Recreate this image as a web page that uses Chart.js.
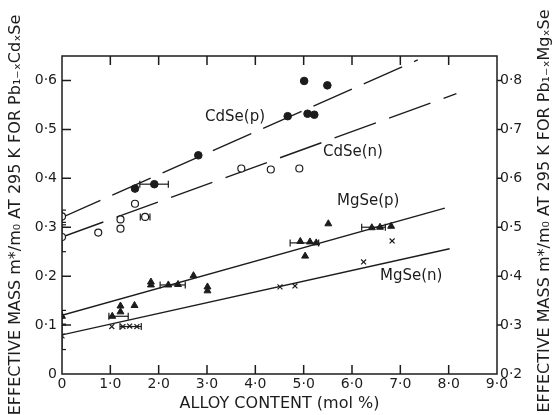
<!DOCTYPE html>
<html lang="en">
<head>
<meta charset="UTF-8">
<script src="https://cdn.jsdelivr.net/npm/chart.js"></script>
<style>
  body { margin: 0; background: #fff; }
  .box { width: 556px; height: 415px; position: relative; }
</style>
<title>Effective mass vs alloy content</title>
</head>
<body>
<div class="box"><canvas id="grafico"></canvas></div>
<script>
// CdSe(p) filled circles
const cdsePX = [1.51, 1.91, 2.82, 4.67, 5.01, 5.08, 5.22, 5.49];
const cdsePY = [0.379, 0.388, 0.447, 0.527, 0.599, 0.532, 0.530, 0.590];
// CdSe(n) open circles (x = 0 ones are PbSe)
const cdseNX = [0, 0, 0.75, 1.21, 1.21, 1.51, 1.72, 3.71, 4.32, 4.91];
const cdseNY = [0.322, 0.280, 0.289, 0.316, 0.297, 0.348, 0.321, 0.420, 0.418, 0.420];
// MgSe(p) triangles
const mgsePX = [0, 1.04, 1.21, 1.21, 1.50, 1.84, 1.84, 2.20, 2.40, 2.72, 3.01, 3.01, 4.93, 5.03, 5.13, 5.26, 5.51, 6.41, 6.58, 6.81];
const mgsePY = [0.118, 0.118, 0.139, 0.127, 0.140, 0.188, 0.182, 0.182, 0.183, 0.201, 0.178, 0.170, 0.271, 0.241, 0.270, 0.268, 0.307, 0.299, 0.300, 0.302];
// MgSe(n) crosses
const mgseNX = [0, 1.03, 1.26, 1.40, 1.55, 4.51, 4.82, 6.24, 6.83];
const mgseNY = [0.078, 0.097, 0.097, 0.098, 0.097, 0.178, 0.180, 0.229, 0.272];

// fitted lines: start and end
const lineNames = ['CdSe(p)', 'CdSe(n)', 'MgSe(p)', 'MgSe(n)'];
const lineX0 = [0, 0, 0, 0];
const lineY0 = [0.320, 0.280, 0.120, 0.080];
const lineX1 = [7.36, 8.16, 7.92, 8.02];
const lineY1 = [0.642, 0.573, 0.339, 0.256];

// horizontal error bars
const errHY = [0.388, 0.321, 0.118, 0.182, 0.268, 0.300, 0.097];
const errHLo = [1.61, 1.62, 0.97, 2.03, 4.72, 6.20, 1.20];
const errHHi = [2.20, 1.82, 1.37, 2.55, 5.31, 6.69, 1.64];
// vertical error bars on the x = 0 points
const errVX = [0, 0, 0, 0];
const errVLo = [0.310, 0.250, 0.100, 0.050];
const errVHi = [0.335, 0.305, 0.130, 0.102];

const xTicks = [0, 1, 2, 3, 4, 5, 6, 7, 8, 9];
const leftTicks = [0, 0.1, 0.2, 0.3, 0.4, 0.5, 0.6];
const rightTicks = [0.2, 0.3, 0.4, 0.5, 0.6, 0.7, 0.8];

const ink = '#1c1c1c';
const fonte = 'DejaVu Sans';

function pts(xs, ys) {
    return xs.map((x, i) => ({ x: x, y: ys[i] }));
}

function rotulo(v) {
    return v === 0 ? '0' : v.toFixed(1).replace('.', '·');
}

const datasets = [];

// lines
const dashes = [[42, 13], [44, 14], [], []];
lineNames.forEach((n, i) => {
    datasets.push({
        type: 'line',
        data: [{ x: lineX0[i], y: lineY0[i] }, { x: lineX1[i], y: lineY1[i] }],
        borderColor: ink,
        borderWidth: 1.4,
        borderDash: dashes[i],
        pointRadius: 0,
        fill: false,
        order: 3
    });
});

// error bars
errHY.forEach((y, i) => {
    datasets.push({
        type: 'line',
        data: [{ x: errHLo[i], y: y }, { x: errHHi[i], y: y }],
        borderColor: ink,
        borderWidth: 1.2,
        pointStyle: 'line',
        rotation: 90,
        pointRadius: 3.5,
        pointBorderWidth: 1.2,
        pointBorderColor: ink,
        order: 2
    });
});
errVX.forEach((x, i) => {
    datasets.push({
        type: 'line',
        data: [{ x: x, y: errVLo[i] }, { x: x, y: errVHi[i] }],
        borderColor: ink,
        borderWidth: 1.2,
        pointStyle: 'line',
        rotation: 0,
        pointRadius: 4,
        pointBorderWidth: 1.2,
        pointBorderColor: ink,
        order: 2
    });
});

// markers
datasets.push({
    type: 'scatter', data: pts(cdsePX, cdsePY),
    pointStyle: 'circle', pointRadius: 3.8,
    backgroundColor: ink, borderColor: ink, borderWidth: 1, order: 1
});
datasets.push({
    type: 'scatter', data: pts(cdseNX, cdseNY),
    pointStyle: 'circle', pointRadius: 3.5,
    backgroundColor: '#fff', borderColor: ink, borderWidth: 1.2, order: 1
});
datasets.push({
    type: 'scatter', data: pts(mgsePX, mgsePY),
    pointStyle: 'triangle', pointRadius: 4,
    backgroundColor: ink, borderColor: ink, borderWidth: 1, order: 1
});
datasets.push({
    type: 'scatter', data: pts(mgseNX, mgseNY),
    pointStyle: 'crossRot', pointRadius: 3.5,
    backgroundColor: ink, borderColor: ink, borderWidth: 1.2, order: 1
});

// frame, inward ticks, line names, right-hand title
const moldura = {
    id: 'moldura',
    afterDatasetsDraw(chart) {
        const { ctx, chartArea: a, scales } = chart;
        ctx.save();
        ctx.strokeStyle = ink;
        ctx.lineWidth = 1.5;
        ctx.strokeRect(a.left, a.top, a.right - a.left, a.bottom - a.top);

        ctx.beginPath();
        xTicks.forEach(v => {
            if (v === 0 || v === 9) return;
            const px = scales.x.getPixelForValue(v);
            ctx.moveTo(px, a.bottom); ctx.lineTo(px, a.bottom - 9);
            ctx.moveTo(px, a.top); ctx.lineTo(px, a.top + 9);
        });
        leftTicks.forEach(v => {
            if (v === 0) return;
            const py = scales.y.getPixelForValue(v);
            ctx.moveTo(a.left, py); ctx.lineTo(a.left + 9, py);
        });
        rightTicks.forEach(v => {
            if (v === 0.2) return;
            const py = scales.y1.getPixelForValue(v);
            ctx.moveTo(a.right, py); ctx.lineTo(a.right + 5, py);
        });
        ctx.stroke();

        // names next to the lines
        const lx = [2.96, 5.40, 5.69, 6.58];
        const ly = [0.526, 0.454, 0.353, 0.200];
        ctx.fillStyle = ink;
        ctx.font = '15px "' + fonte + '"';
        ctx.textAlign = 'left';
        ctx.textBaseline = 'middle';
        lineNames.forEach((n, i) => {
            ctx.fillText(n, scales.x.getPixelForValue(lx[i]), scales.y.getPixelForValue(ly[i]));
        });

        // right title, reads bottom to top
        ctx.font = '16px "' + fonte + '"';
        ctx.textAlign = 'center';
        ctx.translate(545, 211);
        ctx.rotate(-Math.PI / 2);
        ctx.fillText('EFFECTIVE MASS m*/m₀ AT 295 K FOR Pb₁₋ₓMgₓSe', 0, 0);
        ctx.restore();
    }
};

const ctx = document.getElementById('grafico');
const config = {
    data: { datasets: datasets },
    options: {
        responsive: true,
        maintainAspectRatio: false,
        animation: false,
        layout: { padding: { top: 56, left: 0, right: 0, bottom: 0 } },
        plugins: {
            legend: { display: false },
            tooltip: { enabled: false }
        },
        scales: {
            x: {
                type: 'linear', min: 0, max: 9,
                afterBuildTicks: s => { s.ticks = xTicks.map(v => ({ value: v })); },
                afterFit: s => { s.height = 41; },
                grid: { display: false, drawTicks: false },
                border: { display: false },
                ticks: {
                    color: ink, padding: 2,
                    font: { family: fonte, size: 14 },
                    callback: v => rotulo(v)
                },
                title: {
                    display: true, text: 'ALLOY CONTENT (mol %)', color: ink,
                    font: { family: fonte, size: 16 }, padding: { top: 0, bottom: 2 }
                }
            },
            y: {
                type: 'linear', position: 'left', min: 0, max: 0.65,
                afterBuildTicks: s => { s.ticks = leftTicks.map(v => ({ value: v })); },
                afterFit: s => { s.width = 62; },
                grid: { display: false, drawTicks: false },
                border: { display: false },
                ticks: {
                    color: ink, padding: 5,
                    font: { family: fonte, size: 14 },
                    callback: v => rotulo(v)
                },
                title: {
                    display: true, text: 'EFFECTIVE MASS m*/m₀ AT 295 K FOR Pb₁₋ₓCdₓSe', color: ink,
                    font: { family: fonte, size: 16 }, padding: { top: 6, bottom: 0 }
                }
            },
            y1: {
                type: 'linear', position: 'right', min: 0.2, max: 0.85,
                afterBuildTicks: s => { s.ticks = rightTicks.map(v => ({ value: v })); },
                afterFit: s => { s.width = 59; },
                grid: { display: false, drawTicks: false },
                border: { display: false },
                ticks: {
                    color: ink, padding: 3,
                    font: { family: fonte, size: 14 },
                    callback: v => rotulo(v)
                }
            }
        }
    },
    plugins: [moldura]
};

new Chart(ctx, config);
</script>
</body>
</html>
